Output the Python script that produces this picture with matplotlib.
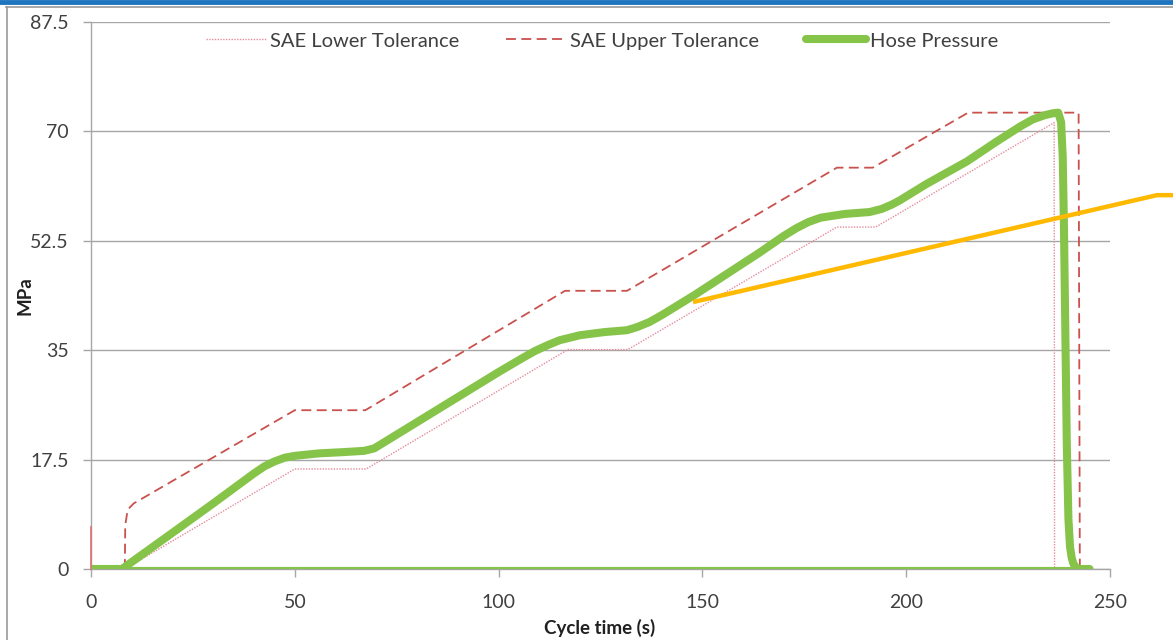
import matplotlib
matplotlib.use("Agg")
import matplotlib.pyplot as plt
from matplotlib.lines import Line2D

plt.rcParams['font.family'] = ['Lato', 'DejaVu Sans']

# ---- data ----
lower_x = [8.3, 50, 67.5, 117, 131.7, 183, 192.5, 236.3, 236.4]
lower_y = [0, 16.0, 16.0, 35.1, 35.1, 54.7, 54.7, 71.4, 0]

upper_x = [8.3, 8.4, 9.0, 10.5, 50, 67.3, 116.3, 131.5, 183, 191.8, 215.2, 242.3, 242.6]
upper_y = [0, 7.0, 9.5, 10.5, 25.4, 25.4, 44.5, 44.5, 64.2, 64.2, 73.0, 73.0, 0]

start_x = [0, 0]
start_y = [0, 6.7]

hose_x = [0, 7.6, 20, 30, 40, 42.5, 45, 47.5, 50, 56, 62, 67, 69.5, 72, 80, 90, 100,
          106, 109, 112, 115, 120, 126, 131.5, 134, 137, 140, 148, 156, 164, 170,
          173, 176, 179, 185, 191, 194, 196.5, 198.5, 205, 214.9, 222, 228, 231,
          234, 236, 237.3, 238.0, 238.4, 238.7, 239.0, 239.4, 239.8, 240.2, 240.6,
          241.0, 241.5, 242.5, 245]
hose_y = [0, 0, 5.8, 10.5, 15.3, 16.4, 17.2, 17.8, 18.1, 18.5, 18.7, 18.9, 19.3,
          20.3, 23.5, 27.5, 31.5, 33.8, 34.9, 35.8, 36.6, 37.4, 37.9, 38.2, 38.7,
          39.5, 40.6, 43.8, 47.2, 50.6, 53.3, 54.5, 55.5, 56.2, 56.8, 57.1, 57.6,
          58.3, 59.0, 61.6, 65.2, 68.3, 70.8, 71.9, 72.6, 72.9, 73.0, 71.5, 66.0,
          55.0, 40.0, 20.0, 8.0, 3.5, 1.8, 0.9, 0.3, 0, 0]

base_x = [0, 244.5]
base_y = [0, 0]

pointer_x = [147.7, 261.5, 265.5]
pointer_y = [42.7, 59.8, 59.8]

yticks = [0, 17.5, 35, 52.5, 70, 87.5]
ytick_labels = ['0', '17.5', '35', '52.5', '70', '87.5']
xticks = [0, 50, 100, 150, 200, 250]

# ---- figure ----
fig = plt.figure(figsize=(11.73, 6.4), dpi=100)
ax = fig.add_axes([91/1173, 71/640, 1019/1173, 547/640])

red = '#C9514E'
pink = '#E58C9C'
green = '#86C449'
gray = '#A6A6A6'

ax.plot(base_x, base_y, color=green, lw=3.0, solid_capstyle='butt', zorder=3)
ax.plot(start_x, start_y, color='#E07070', lw=1.2, zorder=5, clip_on=False)
l1, = ax.plot(lower_x, lower_y, color=pink, lw=1.0, ls=(0, (1, 1)), zorder=2,
              label='SAE Lower Tolerance')
l2, = ax.plot(upper_x, upper_y, color=red, lw=1.3, ls=(0, (5.5, 3)), zorder=2,
              label='SAE Upper Tolerance')
l3, = ax.plot(hose_x, hose_y, color=green, lw=5.8, solid_joinstyle='round',
              solid_capstyle='round', zorder=4, label='Hose Pressure')

ax.plot(pointer_x, pointer_y, color='#FFB900', lw=3.2, clip_on=False,
        solid_capstyle='butt', zorder=6)

ax.set_xlim(0, 250)
ax.set_ylim(0, 87.5)
ax.set_yticks(yticks)
ax.set_yticklabels(ytick_labels)
ax.set_xticks(xticks)
ax.grid(axis='y', color=gray, lw=1.0)
ax.set_axisbelow(True)
for s in ['top', 'right']:
    ax.spines[s].set_visible(False)
for s in ['left', 'bottom']:
    ax.spines[s].set_color(gray)
    ax.spines[s].set_linewidth(1.0)
ax.tick_params(axis='both', colors=gray, labelcolor='#404040', labelsize=14,
               length=6, width=1.0)
ax.tick_params(axis='y', pad=10)
ax.tick_params(axis='x', pad=12)

ax.set_xlabel('Cycle time (s)', fontsize=13.5, fontweight='bold', color='#202020')
ax.set_ylabel('MPa', fontsize=13.5, fontweight='bold', color='#202020')
ax.xaxis.set_label_coords((600 - 91) / 1019, -(628 - 569) / 547)
ax.yaxis.set_label_coords(-(91 - 25) / 1019, 0.5)
ax.xaxis.label.set_va('center')
ax.yaxis.label.set_va('center')

leg = fig.legend(handles=[l1, l2, l3], loc='center', ncol=3, frameon=False,
                 bbox_to_anchor=(602/1173, 1 - 41/640), fontsize=14.5,
                 handlelength=3.0, handletextpad=0.2, columnspacing=2.3,
                 labelcolor='#404040')

# screenshot frame decorations
fig.add_artist(Line2D([0, 1], [1 - 1.5/640, 1 - 1.5/640], transform=fig.transFigure,
                      color='#1F74BE', lw=3.5))
fig.add_artist(Line2D([6/1173, 1], [1 - 6.5/640, 1 - 6.5/640], transform=fig.transFigure,
                      color='#9A9A9A', lw=1.2))
fig.add_artist(Line2D([6.5/1173, 6.5/1173], [0, 1 - 6.5/640], transform=fig.transFigure,
                      color='#9A9A9A', lw=1.2))

fig.savefig('out.png', dpi=100)
